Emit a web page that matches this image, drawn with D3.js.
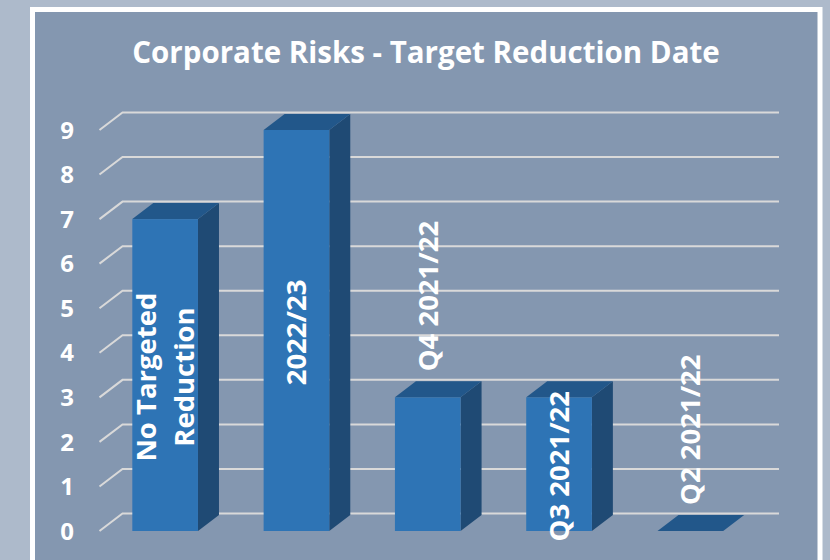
<!DOCTYPE html>
<html><head><meta charset="utf-8">
<script src="https://cdn.jsdelivr.net/npm/d3@7"></script>
<style>html,body{margin:0;padding:0;background:#adbacb;}svg{display:block;}</style>
</head><body>
<svg id="chart" width="830" height="560"></svg>
<script>
const title = "Corporate Risks - Target Reduction Date";
const categories = ["No Targeted Reduction", "2022/23", "Q4 2021/22", "Q3 2021/22", "Q2 2021/22"];
const labelLines = [["No Targeted", "Reduction"], ["2022/23"], ["Q4 2021/22"], ["Q3 2021/22"], ["Q2 2021/22"]];
const labelPlacement = ["center", "center", "outside", "center", "outside"];
const values = [7, 9, 3, 3, 0];
const yTicks = [0, 1, 2, 3, 4, 5, 6, 7, 8, 9];

const svg = d3.select("#chart");
const font = "'Open Sans', 'DejaVu Sans', sans-serif";

svg.append("rect").attr("x", 0).attr("y", 0).attr("width", 830).attr("height", 560).attr("fill", "#adbacb");
svg.append("rect").attr("x", 32.5).attr("y", 9.5).attr("width", 787.5).attr("height", 600)
  .attr("fill", "#8497b0").attr("stroke", "#ffffff").attr("stroke-width", 5);

svg.append("text").attr("x", 426).attr("y", 63).attr("text-anchor", "middle")
  .attr("font-family", font).attr("font-weight", "bold").attr("font-size", 29.5)
  .attr("fill", "#ffffff").text(title);

const x = d3.scaleBand().domain(categories).range([99.5, 756]).paddingInner(0.5).paddingOuter(0.25);
const y = d3.scaleLinear().domain([0, 9]).range([531, 130]);
const gdx = 23, gdy = -17.5;
const bdx = 21, bdy = -16;
const backRight = 779;

// gridlines (back wall + left floor diagonal)
svg.append("g").selectAll("path").data(yTicks).join("path")
  .attr("d", t => `M${x.range()[0]},${y(t)} L${x.range()[0] + gdx},${y(t) + gdy} L${backRight},${y(t) + gdy}`)
  .attr("fill", "none").attr("stroke", "#d9d9d9").attr("stroke-width", 2);

// y tick labels
svg.append("g").selectAll("text").data(yTicks).join("text")
  .attr("x", 74).attr("y", t => y(t)).attr("dy", "0.36em").attr("text-anchor", "end")
  .attr("font-family", font).attr("font-weight", "bold").attr("font-size", 24)
  .attr("fill", "#ffffff").text(t => t);

const bw = x.bandwidth();
const y0 = y(0);
const bars = svg.append("g").selectAll("g").data(categories).join("g");

bars.append("path").attr("fill", "#1f4a74")
  .attr("d", (c, i) => {
    const x0 = x(c) + bw, yt = y(values[i]);
    return `M${x0},${yt} L${x0 + bdx},${yt + bdy} L${x0 + bdx},${y0 + bdy} L${x0},${y0} Z`;
  });
bars.append("rect").attr("fill", "#2e74b5")
  .attr("x", c => x(c)).attr("width", bw)
  .attr("y", (c, i) => y(values[i])).attr("height", (c, i) => y0 - y(values[i]));
bars.append("path").attr("fill", "#22578a")
  .attr("d", (c, i) => {
    const x0 = x(c), yt = y(values[i]);
    return `M${x0},${yt} L${x0 + bdx},${yt + bdy} L${x0 + bw + bdx},${yt + bdy} L${x0 + bw},${yt} Z`;
  });

// data labels (rotated)
const lineGap = 38;
categories.forEach((c, i) => {
  const cx = x(c) + bw / 2;
  const lines = labelLines[i];
  const place = labelPlacement[i];
  const yt = y(values[i]);
  const g = svg.append("g");
  lines.forEach((ln, j) => {
    const lx = cx + (j - (lines.length - 1) / 2) * lineGap;
    let ly, anchor;
    if (place === "center") { ly = (yt + y0) / 2 + 2; anchor = "middle"; }
    else { ly = yt - 26; anchor = "start"; }
    g.append("text")
      .attr("transform", `translate(${lx},${ly}) rotate(-90)`)
      .attr("text-anchor", anchor).attr("dy", "0.36em")
      .attr("font-family", font).attr("font-weight", "bold").attr("font-size", 27.5)
      .attr("fill", "#ffffff").text(ln);
  });
});
</script>
</body></html>
